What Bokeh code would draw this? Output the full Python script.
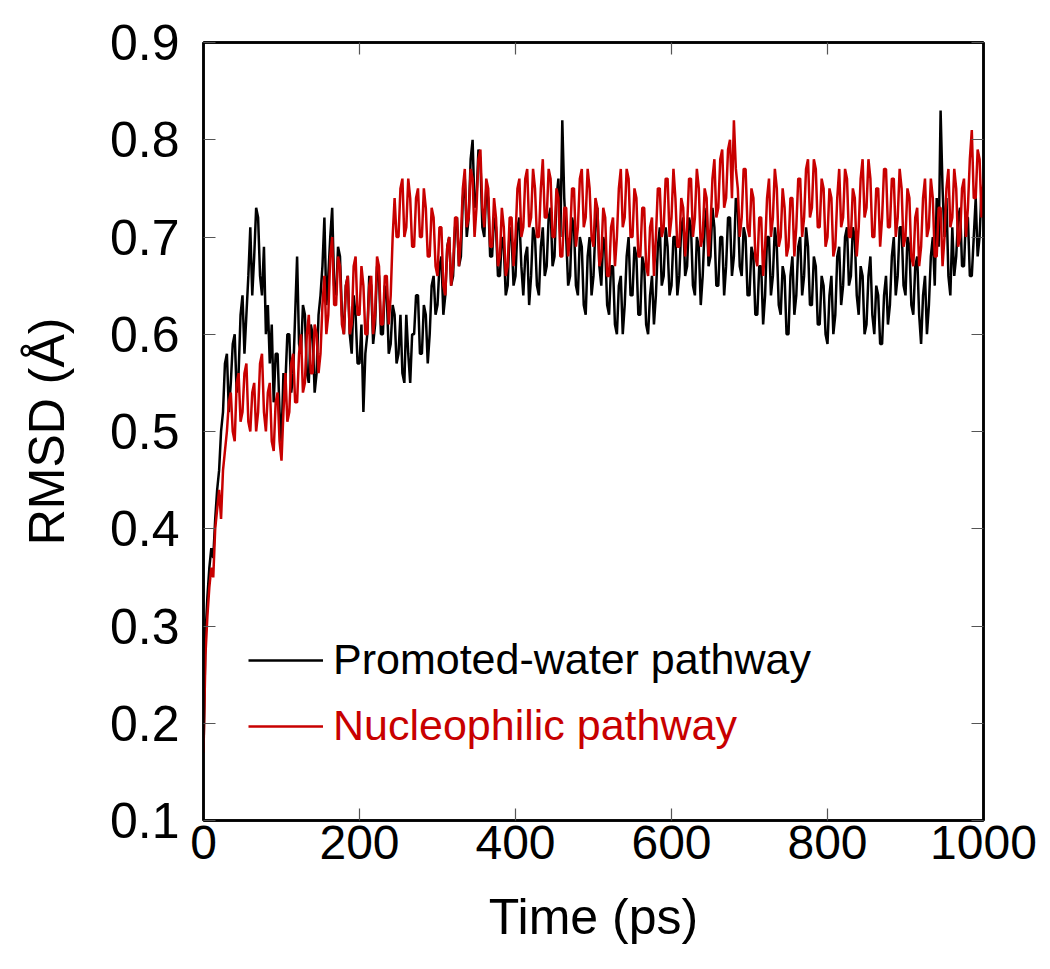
from bokeh.plotting import figure
from bokeh.models import Range1d, LinearAxis, FixedTicker, Legend, LegendItem
from bokeh.embed import file_html
from bokeh.resources import INLINE

# Sampling step of the trajectories (ps)
step_ps = 2.5

promoted_water = [
    0.17, 0.29, 0.33, 0.36, 0.38, 0.37, 0.41, 0.44, 0.46, 0.50, 0.52, 0.57, 0.58, 0.52, 0.55, 0.59, 0.60, 0.54, 0.56, 0.62,
    0.64, 0.58, 0.62, 0.66, 0.71, 0.64, 0.68, 0.73, 0.72, 0.66, 0.64, 0.69, 0.60, 0.63, 0.57, 0.61, 0.53, 0.58, 0.58, 0.52,
    0.49, 0.56, 0.55, 0.60, 0.60, 0.54, 0.56, 0.62, 0.68, 0.59, 0.58, 0.63, 0.62, 0.56, 0.55, 0.61, 0.60, 0.54, 0.56, 0.62,
    0.64, 0.67, 0.72, 0.63, 0.66, 0.70, 0.73, 0.65, 0.64, 0.69, 0.68, 0.62, 0.60, 0.65, 0.66, 0.60, 0.58, 0.64, 0.62, 0.57,
    0.57, 0.61, 0.52, 0.58, 0.60, 0.66, 0.65, 0.59, 0.61, 0.67, 0.66, 0.60, 0.60, 0.65, 0.64, 0.58, 0.59, 0.63, 0.62, 0.57,
    0.58, 0.62, 0.56, 0.55, 0.62, 0.58, 0.55, 0.60, 0.60, 0.64, 0.64, 0.58, 0.58, 0.63, 0.62, 0.57, 0.60, 0.65, 0.66, 0.62,
    0.63, 0.67, 0.68, 0.62, 0.64, 0.69, 0.70, 0.65, 0.66, 0.71, 0.72, 0.67, 0.68, 0.74, 0.76, 0.70, 0.72, 0.78, 0.80, 0.73,
    0.74, 0.79, 0.78, 0.71, 0.70, 0.75, 0.74, 0.68, 0.68, 0.72, 0.71, 0.66, 0.66, 0.70, 0.69, 0.64, 0.65, 0.71, 0.70, 0.65,
    0.66, 0.71, 0.72, 0.67, 0.64, 0.68, 0.69, 0.63, 0.66, 0.71, 0.70, 0.65, 0.64, 0.69, 0.71, 0.66, 0.67, 0.72, 0.73, 0.67,
    0.68, 0.74, 0.76, 0.70, 0.82, 0.74, 0.70, 0.65, 0.66, 0.72, 0.71, 0.65, 0.64, 0.70, 0.69, 0.63, 0.62, 0.68, 0.70, 0.64,
    0.66, 0.71, 0.73, 0.67, 0.65, 0.70, 0.69, 0.63, 0.62, 0.67, 0.67, 0.61, 0.60, 0.65, 0.66, 0.60, 0.63, 0.68, 0.70, 0.64,
    0.64, 0.69, 0.68, 0.62, 0.62, 0.68, 0.67, 0.61, 0.60, 0.64, 0.66, 0.61, 0.64, 0.69, 0.71, 0.65, 0.66, 0.71, 0.69, 0.64,
    0.65, 0.70, 0.70, 0.64, 0.66, 0.71, 0.72, 0.66, 0.67, 0.72, 0.71, 0.65, 0.64, 0.70, 0.69, 0.63, 0.66, 0.71, 0.73, 0.67,
    0.68, 0.73, 0.71, 0.65, 0.65, 0.70, 0.70, 0.64, 0.67, 0.72, 0.72, 0.66, 0.68, 0.74, 0.73, 0.67, 0.66, 0.71, 0.70, 0.64,
    0.64, 0.69, 0.68, 0.62, 0.62, 0.67, 0.67, 0.61, 0.64, 0.70, 0.70, 0.64, 0.66, 0.71, 0.69, 0.63, 0.62, 0.67, 0.66, 0.60,
    0.60, 0.66, 0.68, 0.62, 0.64, 0.69, 0.70, 0.64, 0.66, 0.71, 0.69, 0.63, 0.63, 0.68, 0.67, 0.61, 0.61, 0.66, 0.65, 0.60,
    0.59, 0.64, 0.66, 0.60, 0.62, 0.68, 0.69, 0.63, 0.65, 0.70, 0.71, 0.65, 0.66, 0.71, 0.70, 0.64, 0.62, 0.67, 0.66, 0.60,
    0.61, 0.66, 0.68, 0.62, 0.60, 0.65, 0.64, 0.59, 0.59, 0.64, 0.66, 0.61, 0.63, 0.68, 0.70, 0.64, 0.66, 0.71, 0.71, 0.65,
    0.64, 0.70, 0.69, 0.63, 0.62, 0.67, 0.68, 0.62, 0.59, 0.64, 0.66, 0.60, 0.63, 0.68, 0.70, 0.65, 0.74, 0.69, 0.83, 0.75,
    0.70, 0.74, 0.66, 0.64, 0.71, 0.66, 0.68, 0.72, 0.73, 0.67, 0.67, 0.72, 0.72, 0.66, 0.66, 0.70, 0.74, 0.68, 0.70, 0.75,
    0.72,
]

nucleophilic = [
    0.17, 0.27, 0.31, 0.34, 0.36, 0.35, 0.40, 0.42, 0.44, 0.41, 0.46, 0.48, 0.50, 0.53, 0.54, 0.50, 0.49, 0.55, 0.56, 0.51,
    0.52, 0.56, 0.57, 0.51, 0.50, 0.54, 0.55, 0.50, 0.52, 0.57, 0.58, 0.52, 0.50, 0.54, 0.55, 0.49, 0.48, 0.53, 0.54, 0.49,
    0.47, 0.52, 0.56, 0.51, 0.52, 0.57, 0.58, 0.53, 0.53, 0.58, 0.60, 0.54, 0.55, 0.60, 0.62, 0.56, 0.56, 0.61, 0.60, 0.56,
    0.58, 0.63, 0.66, 0.60, 0.62, 0.68, 0.70, 0.63, 0.63, 0.68, 0.67, 0.61, 0.60, 0.65, 0.66, 0.60, 0.61, 0.67, 0.68, 0.62,
    0.62, 0.67, 0.65, 0.60, 0.60, 0.65, 0.66, 0.60, 0.62, 0.68, 0.67, 0.61, 0.61, 0.66, 0.66, 0.61, 0.64, 0.70, 0.74, 0.70,
    0.70, 0.75, 0.76, 0.70, 0.71, 0.76, 0.74, 0.69, 0.69, 0.74, 0.75, 0.70, 0.70, 0.75, 0.73, 0.68, 0.68, 0.73, 0.72, 0.67,
    0.66, 0.71, 0.71, 0.65, 0.64, 0.69, 0.70, 0.65, 0.67, 0.72, 0.72, 0.67, 0.70, 0.75, 0.77, 0.71, 0.72, 0.77, 0.76, 0.70,
    0.73, 0.78, 0.79, 0.73, 0.71, 0.76, 0.75, 0.69, 0.69, 0.74, 0.72, 0.67, 0.68, 0.73, 0.71, 0.66, 0.67, 0.72, 0.72, 0.67,
    0.70, 0.75, 0.76, 0.70, 0.71, 0.76, 0.77, 0.71, 0.72, 0.77, 0.75, 0.70, 0.70, 0.75, 0.78, 0.72, 0.72, 0.77, 0.76, 0.70,
    0.70, 0.75, 0.74, 0.68, 0.68, 0.73, 0.73, 0.68, 0.70, 0.75, 0.75, 0.69, 0.71, 0.76, 0.77, 0.71, 0.72, 0.77, 0.75, 0.70,
    0.69, 0.74, 0.73, 0.67, 0.68, 0.73, 0.72, 0.66, 0.66, 0.71, 0.72, 0.67, 0.70, 0.75, 0.77, 0.71, 0.72, 0.77, 0.76, 0.70,
    0.70, 0.75, 0.74, 0.68, 0.68, 0.73, 0.73, 0.67, 0.66, 0.71, 0.72, 0.66, 0.70, 0.75, 0.75, 0.70, 0.71, 0.76, 0.76, 0.70,
    0.72, 0.77, 0.74, 0.69, 0.69, 0.74, 0.73, 0.68, 0.71, 0.76, 0.76, 0.70, 0.72, 0.77, 0.75, 0.69, 0.70, 0.75, 0.74, 0.68,
    0.71, 0.76, 0.78, 0.72, 0.73, 0.78, 0.79, 0.73, 0.74, 0.79, 0.80, 0.74, 0.82, 0.77, 0.75, 0.70, 0.72, 0.77, 0.77, 0.71,
    0.70, 0.75, 0.74, 0.68, 0.67, 0.72, 0.72, 0.66, 0.69, 0.74, 0.76, 0.70, 0.72, 0.77, 0.75, 0.69, 0.70, 0.75, 0.73, 0.68,
    0.69, 0.74, 0.74, 0.68, 0.71, 0.76, 0.76, 0.70, 0.72, 0.77, 0.78, 0.72, 0.73, 0.78, 0.77, 0.71, 0.71, 0.76, 0.75, 0.69,
    0.70, 0.75, 0.74, 0.68, 0.69, 0.74, 0.77, 0.71, 0.72, 0.77, 0.76, 0.70, 0.70, 0.75, 0.74, 0.68, 0.71, 0.76, 0.78, 0.72,
    0.73, 0.78, 0.76, 0.70, 0.70, 0.75, 0.75, 0.69, 0.72, 0.77, 0.77, 0.71, 0.71, 0.76, 0.76, 0.70, 0.72, 0.77, 0.75, 0.69,
    0.70, 0.75, 0.74, 0.68, 0.67, 0.72, 0.73, 0.67, 0.69, 0.74, 0.76, 0.70, 0.71, 0.76, 0.74, 0.68, 0.68, 0.73, 0.73, 0.67,
    0.70, 0.75, 0.77, 0.71, 0.72, 0.77, 0.75, 0.69, 0.70, 0.75, 0.76, 0.70, 0.73, 0.78, 0.81, 0.74, 0.74, 0.79, 0.78, 0.72,
    0.76,
]

time_black = [i * step_ps for i in range(len(promoted_water))]
time_red = [i * step_ps for i in range(len(nucleophilic))]

x_ticks = [0, 200, 400, 600, 800, 1000]
y_ticks = [0.1, 0.2, 0.3, 0.4, 0.5, 0.6, 0.7, 0.8, 0.9]

series_names = ["Promoted-water pathway", "Nucleophilic pathway"]
series_colors = ["#000000", "#C80000"]

FONT = "Liberation Sans"

p = figure(width=1048, height=968, output_backend="svg", toolbar_location=None,
           x_range=Range1d(0, 1000), y_range=Range1d(0.1, 0.9),
           min_border_left=203, min_border_right=65, min_border_top=42, min_border_bottom=148)
p.background_fill_color = "white"
p.border_fill_color = "white"
p.grid.visible = False
p.outline_line_color = "black"
p.outline_line_width = 2.5

r_black = p.line(time_black, promoted_water, line_color=series_colors[0], line_width=2.5)
r_red = p.line(time_red, nucleophilic, line_color=series_colors[1], line_width=2.5)


def style_axis(ax, ticks, show_labels, size):
    ax.ticker = FixedTicker(ticks=ticks)
    ax.axis_line_color = "black"
    ax.axis_line_width = 2.5
    ax.major_tick_in = 12
    ax.major_tick_out = 0
    ax.major_tick_line_color = "#555555"
    ax.major_tick_line_width = 1.2
    ax.minor_tick_line_color = None
    ax.major_label_text_font = FONT
    ax.major_label_text_color = "black"
    if show_labels:
        ax.major_label_text_font_size = size
    else:
        ax.major_label_text_font_size = "0px"
        ax.major_label_text_alpha = 0


xa = p.xaxis[0]
style_axis(xa, x_ticks, True, "48px")
xa.major_label_standoff = 5
xa.axis_label = "Time (ps)"
xa.axis_label_text_font = FONT
xa.axis_label_text_font_size = "50px"
xa.axis_label_text_font_style = "normal"
xa.axis_label_text_color = "black"
xa.axis_label_standoff = 27

ya = p.yaxis[0]
style_axis(ya, y_ticks, True, "50px")
ya.major_label_standoff = 24
ya.axis_label = "RMSD (Å)"
ya.axis_label_text_font = FONT
ya.axis_label_text_font_size = "50px"
ya.axis_label_text_font_style = "normal"
ya.axis_label_text_color = "black"
ya.axis_label_standoff = 32

top = LinearAxis()
style_axis(top, x_ticks, False, "0px")
p.add_layout(top, "above")
right = LinearAxis()
style_axis(right, y_ticks, False, "0px")
p.add_layout(right, "right")

legend_locs = [(45, 136), (45, 70)]
for name, color, rend, loc in zip(series_names, series_colors, [r_black, r_red], legend_locs):
    lg = Legend(items=[LegendItem(label=name, renderers=[rend])], location=loc)
    lg.border_line_color = None
    lg.background_fill_alpha = 0
    lg.label_text_font = FONT
    lg.label_text_font_size = "43px"
    lg.label_text_color = color
    lg.glyph_width = 75
    lg.label_standoff = 10
    p.add_layout(lg, "center")

open("out.html", "w").write(file_html(p, INLINE))
